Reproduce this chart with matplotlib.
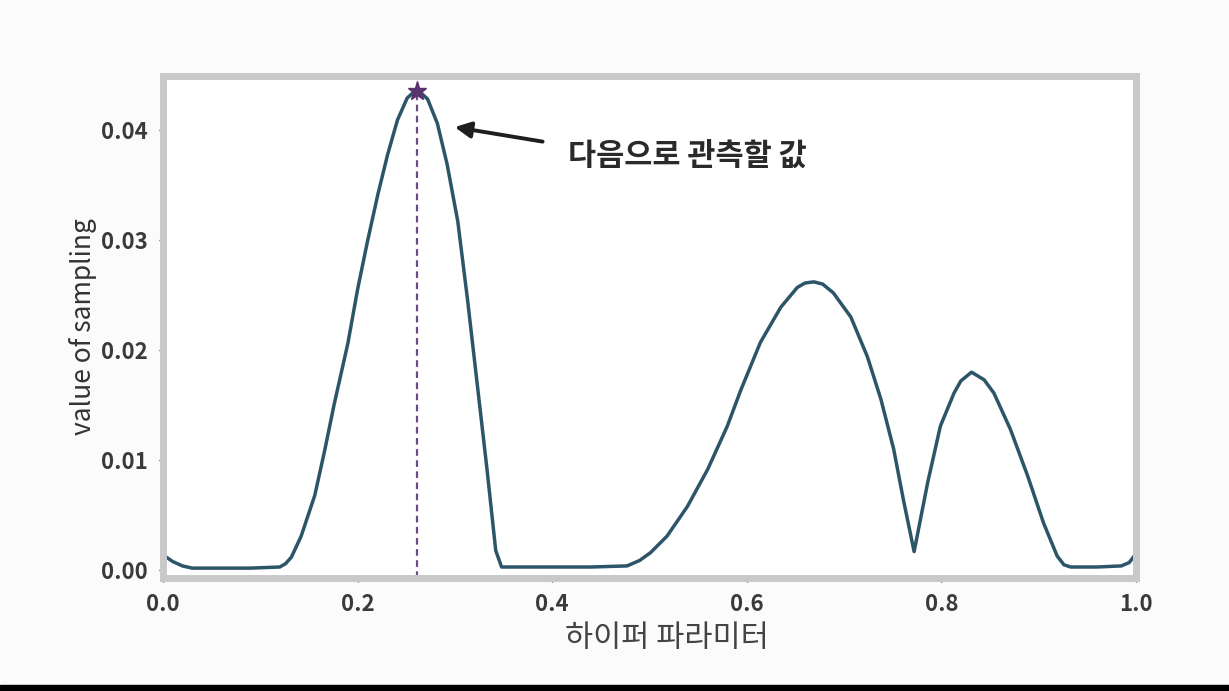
import matplotlib
matplotlib.use('Agg')
import matplotlib.pyplot as plt

plt.rcParams['font.family'] = ['Noto Sans CJK KR', 'DejaVu Sans']

# 획득 함수 곡선
x_vals = [0.0, 0.01, 0.02, 0.03, 0.06, 0.09, 0.12, 0.126, 0.132, 0.142, 0.156,
          0.166, 0.176, 0.190, 0.200, 0.210, 0.221, 0.231, 0.241, 0.251, 0.256,
          0.261, 0.266, 0.272, 0.282, 0.292, 0.303, 0.313, 0.323, 0.333, 0.342,
          0.348, 0.36, 0.40, 0.44, 0.477, 0.49, 0.501, 0.518, 0.539, 0.560, 0.580,
          0.594, 0.614, 0.635, 0.652, 0.660, 0.669, 0.678, 0.689, 0.707, 0.724,
          0.738, 0.751, 0.761, 0.772, 0.786, 0.799, 0.813, 0.820, 0.831, 0.844,
          0.854, 0.871, 0.889, 0.905, 0.919, 0.926, 0.933, 0.96, 0.985, 0.993, 1.0]
y_vals = [0.0014, 0.0008, 0.0004, 0.0002, 0.0002, 0.0002, 0.0003, 0.0006, 0.0012,
          0.0031, 0.0068, 0.0108, 0.0151, 0.0206, 0.0255, 0.0298, 0.0342, 0.0378,
          0.0409, 0.0429, 0.0433, 0.0435, 0.0433, 0.0428, 0.0406, 0.0369, 0.0317,
          0.0246, 0.0169, 0.0092, 0.0018, 0.0003, 0.0003, 0.0003, 0.0003, 0.0004,
          0.0009, 0.0016, 0.0031, 0.0058, 0.0092, 0.0131, 0.0164, 0.0207, 0.0239,
          0.0257, 0.0261, 0.0262, 0.0260, 0.0252, 0.0230, 0.0194, 0.0155, 0.0110,
          0.0064, 0.0017, 0.0080, 0.0131, 0.0161, 0.0172, 0.0180, 0.0173, 0.0161,
          0.0128, 0.0085, 0.0043, 0.0013, 0.0005, 0.0003, 0.0003, 0.0004, 0.0007,
          0.0015]

x_next = 0.261
y_next = 0.0435

x_ticks = [0.0, 0.2, 0.4, 0.6, 0.8, 1.0]
y_ticks = [0.00, 0.01, 0.02, 0.03, 0.04]

fig = plt.figure(figsize=(12.29, 6.91), dpi=100, facecolor='#fbfbfb')
ax = fig.add_axes([0.1326, 0.1635, 0.7917, 0.7265])

ax.plot(x_vals, y_vals, color='#2d5569', lw=2.5, solid_joinstyle='round')
ax.vlines(x_next, -0.0007, y_next, colors='#6b4a85', linestyles=(0, (3, 2)), lw=1.6)
ax.plot([x_next], [y_next], marker='*', ms=14, color='#5b3270', zorder=5)

# 화살표 + 설명
ax.annotate('', xy=(0.297, 0.0403), xytext=(0.393, 0.0389),
            arrowprops=dict(arrowstyle='-|>', color='#1e1e1e', lw=2.8,
                            mutation_scale=24))
ax.text(0.416, 0.0377, '다음으로 관측할 값', fontsize=22, fontweight='bold',
        color='#2a2a2a', ha='left', va='center')

ax.set_xlim(0, 1)
ax.set_ylim(-0.0007, 0.0449)
ax.set_xticks(x_ticks)
ax.set_xticklabels(['0.0', '0.2', '0.4', '0.6', '0.8', '1.0'])
ax.set_yticks(y_ticks)
ax.set_yticklabels(['0.00', '0.01', '0.02', '0.03', '0.04'])
ax.tick_params(labelsize=16, colors='#333333', length=3, width=1, pad=8)
for lab in ax.get_xticklabels() + ax.get_yticklabels():
    lab.set_fontweight('bold')
    lab.set_color('#3a3a3a')

for s in ax.spines.values():
    s.set_color('#c9c9c9')
    s.set_linewidth(5)

ax.set_ylabel('value of sampling', fontsize=19, color='#333333')
ax.set_xlabel('하이퍼 파라미터', fontsize=22, color='#444444')
ax.yaxis.set_label_coords(-0.068, 0.5)
ax.xaxis.set_label_coords(0.518, -0.09)

# 사진 아래쪽 검은 띠
fig.patches.append(plt.Rectangle((0, 0), 1, 0.008, transform=fig.transFigure,
                                 color='black', zorder=0))

plt.savefig('out.png', dpi=100, facecolor=fig.get_facecolor())
